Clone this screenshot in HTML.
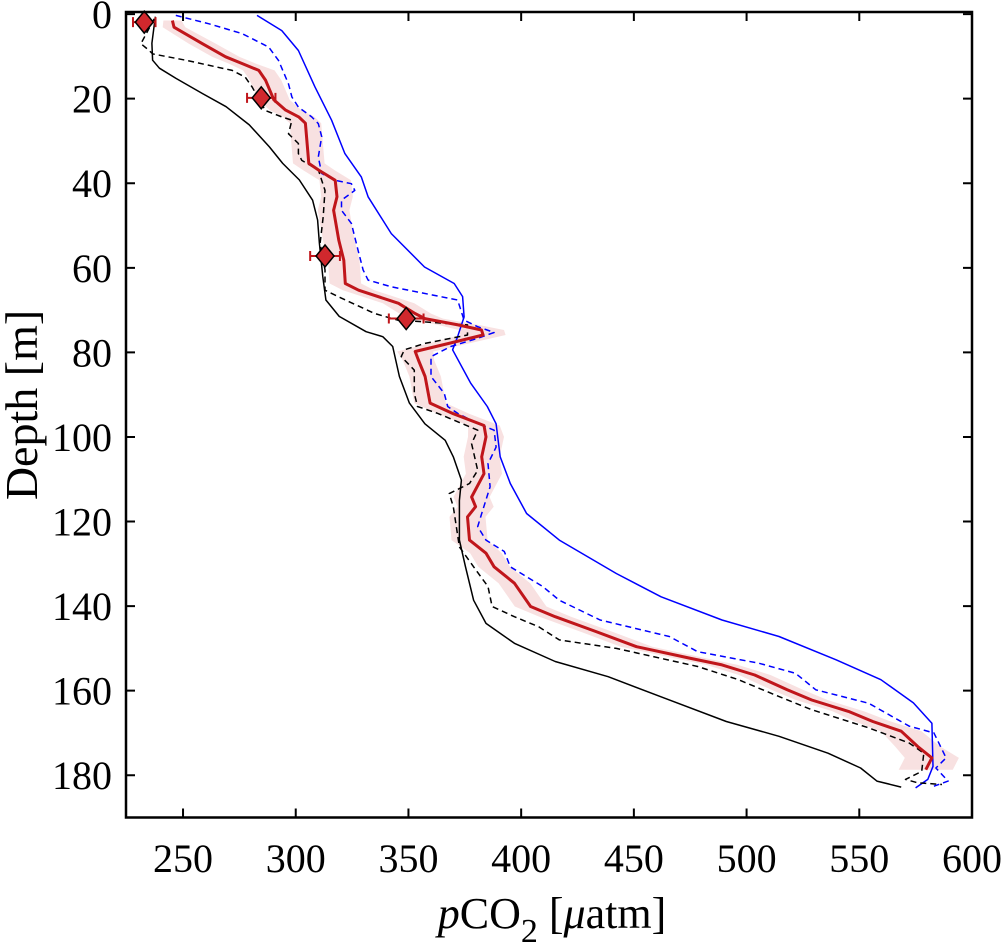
<!DOCTYPE html>
<html><head><meta charset="utf-8"><style>
html,body{margin:0;padding:0;background:#fff;}
svg{display:block;font-family:"Liberation Serif",serif;}
</style></head><body>
<svg id="chart" width="1004" height="949" viewBox="0 0 1004 949" xmlns="http://www.w3.org/2000/svg">
<g id="plot"></g>
<rect x="126" y="12" width="846" height="805.5" fill="none" stroke="#000" stroke-width="2.5"/>
<g id="axes"></g>
<text x="552" y="928" font-size="44" text-anchor="middle"><tspan font-style="italic">p</tspan>CO<tspan font-size="34" dy="14">2</tspan><tspan dy="-14"> [</tspan><tspan font-style="italic">μ</tspan>atm]</text>
<text transform="translate(37,405) rotate(-90)" font-size="46" text-anchor="middle">Depth [m]</text>
</svg>
<script>
const xTicks=[250,300,350,400,450,500,550,600];
const yTicks=[0,20,40,60,80,100,120,140,160,180];
const blackSolidX=[237.7,236.2,236.5,239.5,246.9,258.7,269.1,279.4,288.3,294.2,301.6,307.5,309.7,310.5,312,313.4,319.3,331.2,338.6,343,346,350.4,357.3,366.3,369.9,373.5,372.6,372.6,375.3,378.9,384.4,397,415.1,438.6,463.8,491,514.4,536.1,550.6,557.8,568.6];
const blackSolidD=[0.6,6.9,10.9,12.8,15.2,18.8,21.9,26.2,31.4,35.3,39.2,44,48.7,54.2,62.1,67.6,71.5,75.1,76.3,78.6,85.7,92,96.9,100.8,104.7,110.2,115,124.4,130.7,138.6,144.1,148.8,153.1,156.7,161.8,167.3,170.8,174.8,178.3,181.4,182.8];
const blueSolidX=[282.8,293.8,301.2,308.5,315.9,321.8,329.1,332.1,342.4,357.1,370.3,374,374.7,371.8,369.6,377.6,385,388.9,390.7,395.2,402.4,416.9,442.2,462.1,489.1,514.4,539.7,559.6,574,582.2,582.7,580.4,575];
const blueSolidD=[0.3,3.9,8.6,17.2,25.1,33,38.5,43.2,51.9,59.8,63.7,66.8,71.6,76.3,79.4,87.3,92.8,96.9,104.7,111,118.1,124.4,132.3,137.8,143.3,147.2,152.7,157.4,162.9,167.7,177.9,181,183];
const redMeanX=[245.3,246,258.6,268.9,276.3,283.6,286.6,290.3,295.5,301.3,304.3,305.8,310.2,317.5,318.3,316.8,319.1,321.3,322,327.9,345.6,352.9,357.3,372,382.4,383.1,367.7,353,354.4,357.4,359.6,369.9,383.5,384.4,382.5,383.5,378,379.8,376.2,377.1,384.4,388,397,404.2,415.1,433.1,451.2,474.7,489.1,503.6,518,528.9,545.2,556,568.6,575.9,582.2,579.5];
const redMeanD=[1.5,3.1,7,10.1,11.7,13.3,15.6,20.3,22.7,24.3,25.8,35.3,36.9,39.3,43.2,46.4,53.5,58.2,63.7,65.3,68.4,70.8,72,73.5,74.7,75.9,77.9,79.8,81.8,85.7,92,94.5,97.3,100,104.7,108.7,114.2,116.5,118.9,124.4,127.5,130.7,134.6,140.1,142.5,146,149.6,152.3,153.9,156.3,159.8,162.2,164.9,167.3,169.6,173.2,175.9,178.7];
const redBandHalf=[4,5,6,6,6,7,7,7,7,7,7,7,7,7,7,7,7,7,7,7,7,7,8,9,10,10,9,8,7,7,7,7,7,8,8,8,8,8,8,8,7,7,7,7,7,7,7,7,7,7,7,7,7,8,9,10,12,12];
const blackDashX=[237.2,231.3,235,236.5,251.2,271.8,277.6,280.6,286.5,293.8,298.3,296.8,301.2,301.2,302.7,310.1,311.5,313,312.2,310.8,313,313,318.8,335,345.3,357.1,376.2,376.2,357.1,348.2,346.8,352.6,352.6,354,362.9,380.7,378,380.7,377.1,368.1,369.9,372.6,378.9,385.3,387.1,397,407.8,416.9,442.2,478.3,496.4,510.8,528.9,554.2,572.2,578.6,577.7,570.5,575.9,586.7];
const blackDashD=[1.1,7,8.6,9.4,10.9,13.3,14.9,17.2,22.8,24.3,25.1,28.3,30.6,33,34.6,36.9,39.3,41.7,47.9,54.2,60.5,65.3,66.8,70.8,72.4,72.8,73.5,75.9,77.9,79.4,81,84.2,89.7,92.8,94.4,98.4,101.6,107.9,111,113.4,116.5,126,130.7,135.4,140.1,142.5,144.9,148,150,154.3,157.4,160.6,164.5,168.8,172.4,174.8,179.1,181,181.8,182.2];
const blueDashX=[246.8,261.5,276.2,288,292.4,296.8,298.3,301.2,307.1,310,311.5,310,311.5,317.4,324.7,326.2,320.3,320.3,324.7,327.6,329.9,332.1,342.4,371.8,374.7,380.6,388,380.6,368.8,360,360,365.9,367.4,371.8,380.6,388,388.9,385.3,386.2,382.5,380.7,384.4,392.5,395.2,409.6,416.9,435,465.7,478.3,505.4,521.7,530.7,554.2,572.2,583.1,588.5,584,589.4,583.1];
const blueDashD=[0.3,2.3,4.6,7.8,11,16.5,19.6,22,24.3,25.9,29,33.8,37.7,39.3,40.1,41.7,44,46.4,49.5,55.8,60.5,62.9,64.5,67.6,72.4,73.9,75.3,76.7,78.6,81,85.7,89.7,92.8,94.4,96.8,98.4,102.4,106.3,111.8,118.1,121.2,124.4,127.1,130.7,135.4,138.6,143.3,147.2,150.8,153.5,155.9,159.8,163,168.4,170,175.9,178.3,181.4,182.6];
const obsX=[232.8,284.7,313,349];
const obsD=[1.9,19.8,57.2,72];
const obsErr=[5,6.3,6.6,7.7];

const X0=224.7,X1=600,PX0=126,PX1=972;
const D0=-0.5,D1=190,PY0=12,PY1=817.5;
function sx(v){return PX0+(v-X0)/(X1-X0)*(PX1-PX0);}
function sy(d){return PY0+(d-D0)/(D1-D0)*(PY1-PY0);}
const NS='http://www.w3.org/2000/svg';
const plot=document.getElementById('plot');
const axes=document.getElementById('axes');
function mk(tag,parent){const e=document.createElementNS(NS,tag);parent.appendChild(e);return e;}
function pts(xs,ds){return xs.map((v,i)=>sx(v).toFixed(1)+','+sy(ds[i]).toFixed(1)).join(' ');}

const bandPts=redMeanX.map((v,i)=>sx(v-redBandHalf[i]).toFixed(1)+','+sy(redMeanD[i]).toFixed(1))
 .concat(redMeanX.map((v,i)=>sx(v+redBandHalf[i]).toFixed(1)+','+sy(redMeanD[i]).toFixed(1)).reverse()).join(' ');
const band=mk('polygon',plot);


band.setAttribute('points',bandPts);band.setAttribute('fill','#f8e1e1');

function line(xs,ds,color,w,dash,name){
 const p=mk('polyline',plot);
 
 
 p.setAttribute('points',pts(xs,ds));p.setAttribute('fill','none');
 p.setAttribute('stroke',color);p.setAttribute('stroke-width',w);
 p.setAttribute('stroke-linejoin','round');
 if(dash)p.setAttribute('stroke-dasharray',dash);
}
line(blackSolidX,blackSolidD,'#000',1.5,null,'black-solid-line');
line(blueSolidX,blueSolidD,'#0000ff',1.5,null,'blue-solid-line');
line(blackDashX,blackDashD,'#000',1.5,'6 4','black-dashed-line');
line(blueDashX,blueDashD,'#0000ff',1.5,'6 4','blue-dashed-line');
line(redMeanX,redMeanD,'#c0161b',3,null,'red-mean-line');

obsX.forEach((v,i)=>{
 const g=mk('g',plot);
 
 
 const cx=sx(v),cy=sy(obsD[i]),xl=sx(v-obsErr[i]),xr=sx(v+obsErr[i]);
 const e=mk('path',g);
 e.setAttribute('d',`M${xl},${cy}H${xr}M${xl},${cy-5}V${cy+5}M${xr},${cy-5}V${cy+5}`);
 e.setAttribute('stroke','#c0161b');e.setAttribute('stroke-width',2);e.setAttribute('fill','none');
 const d=mk('polygon',g);
 d.setAttribute('points',`${cx},${cy-11} ${cx+9},${cy} ${cx},${cy+11} ${cx-9},${cy}`);
 d.setAttribute('fill','#d0282d');d.setAttribute('stroke','#000');d.setAttribute('stroke-width',1.5);
});

xTicks.forEach(t=>{
 const x=sx(t);
 const l=mk('path',axes);
 
 
 l.setAttribute('d',`M${x},${PY1}V${PY1-9}M${x},${PY0}V${PY0+9}`);l.setAttribute('stroke','#000');l.setAttribute('stroke-width',2);
 const tx=mk('text',axes);
 
 
 tx.setAttribute('x',x);tx.setAttribute('y',872);tx.setAttribute('font-size',40);tx.setAttribute('text-anchor','middle');
 tx.textContent=t;
});
yTicks.forEach(t=>{
 const y=sy(t);
 const l=mk('path',axes);
 
 
 l.setAttribute('d',`M${PX0},${y}H${PX0+9}M${PX1},${y}H${PX1-9}`);l.setAttribute('stroke','#000');l.setAttribute('stroke-width',2);
 const tx=mk('text',axes);
 
 
 tx.setAttribute('x',112);tx.setAttribute('y',y+14);tx.setAttribute('font-size',40);tx.setAttribute('text-anchor','end');
 tx.textContent=t;
});
</script>
</body></html>
